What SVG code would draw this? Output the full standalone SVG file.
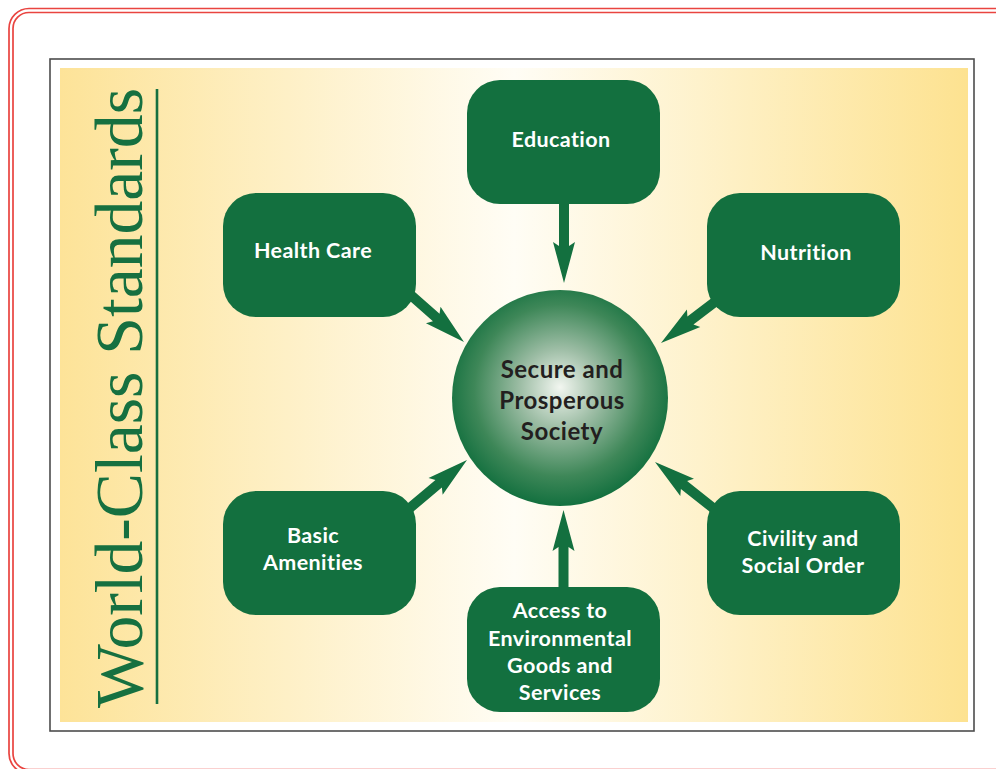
<svg xmlns="http://www.w3.org/2000/svg" width="996" height="769" viewBox="0 0 996 769">
  <defs>
    <linearGradient id="panelGrad" x1="0" y1="0" x2="1" y2="0">
      <stop offset="0" stop-color="#FDE398"/>
      <stop offset="0.5" stop-color="#FFFDF5"/>
      <stop offset="1" stop-color="#FDE290"/>
    </linearGradient>
    <radialGradient id="circleGrad" cx="0.5" cy="0.47" r="0.53" fx="0.5" fy="0.45">
      <stop offset="0" stop-color="#F2F6F0"/>
      <stop offset="0.35" stop-color="#9DBDA5"/>
      <stop offset="0.75" stop-color="#3E8758"/>
      <stop offset="1" stop-color="#13703F"/>
    </radialGradient>
    <style>
      .box { fill: #13703F; }
      .boxText { font-family: Lato, "Open Sans", "Liberation Sans", sans-serif; font-weight: bold; font-size: 21.5px; letter-spacing: 0.4px; fill: #FFFFFF; text-anchor: middle; }
      .centerText { font-family: Lato, "Open Sans", "Liberation Sans", sans-serif; font-weight: bold; font-size: 24px; letter-spacing: 0.5px; fill: #231F20; text-anchor: middle; }
      .arrow { fill: #13703F; }
      .redLine { fill: none; stroke: #E94440; stroke-width: 1.7; }
    </style>
  </defs>

  <rect x="0" y="0" width="996" height="769" fill="#FFFFFF"/>

  <!-- red double border -->
  <rect class="redLine" x="9" y="8.5" width="1010" height="765" rx="20" ry="20"/>
  <rect class="redLine" x="13" y="12.5" width="1002" height="757" rx="16" ry="16"/>

  <!-- gray frame -->
  <rect x="50" y="59" width="924" height="672" fill="#FFFFFF" stroke="#4D4D4D" stroke-width="1.6"/>

  <!-- yellow panel -->
  <rect x="60" y="68" width="908" height="654" fill="url(#panelGrad)"/>

  <!-- title -->
  <g id="title">
    <text x="142" y="708" transform="rotate(-90 142 708)" font-family="'Liberation Serif', 'Times New Roman', serif" font-size="67" fill="#167040" textLength="620" lengthAdjust="spacingAndGlyphs">World-Class Standards</text>
    <line x1="157" y1="89" x2="157" y2="704" stroke="#167040" stroke-width="2.6"/>
  </g>

  <!-- connectors -->
  <g id="connectors">
    <g transform="translate(564 283) rotate(90)"><path class="arrow" d="M0,0 L-41,-11 L-37,-5 L-85,-5 L-85,5 L-37,5 L-41,11 Z"/></g>
    <g transform="translate(563.5 510) rotate(-90)"><path class="arrow" d="M0,0 L-41,-11 L-37,-5 L-82,-5 L-82,5 L-37,5 L-41,11 Z"/></g>
    <g transform="translate(464 342) rotate(41.4)"><path class="arrow" d="M0,0 L-41,-11 L-37,-5 L-82,-5 L-82,5 L-37,5 L-41,11 Z"/></g>
    <g transform="translate(661 343) rotate(142.7)"><path class="arrow" d="M0,0 L-41,-11 L-37,-5 L-80,-5 L-80,5 L-37,5 L-41,11 Z"/></g>
    <g transform="translate(467 460) rotate(-40)"><path class="arrow" d="M0,0 L-41,-11 L-37,-5 L-84,-5 L-84,5 L-37,5 L-41,11 Z"/></g>
    <g transform="translate(655 462) rotate(-141.6)"><path class="arrow" d="M0,0 L-41,-11 L-37,-5 L-84,-5 L-84,5 L-37,5 L-41,11 Z"/></g>
  </g>

  <!-- nodes -->
  <g id="center">
    <circle cx="560" cy="398" r="108" fill="url(#circleGrad)"/>
    <text class="centerText" x="562" y="378">Secure and</text>
    <text class="centerText" x="562" y="409">Prosperous</text>
    <text class="centerText" x="562" y="440">Society</text>
  </g>

  <g id="education">
    <rect class="box" x="467" y="80" width="193" height="124" rx="33" ry="33"/>
    <text class="boxText" x="561" y="147">Education</text>
  </g>

  <g id="health-care">
    <rect class="box" x="223" y="193" width="193" height="124" rx="33" ry="33"/>
    <text class="boxText" x="313" y="258">Health Care</text>
  </g>

  <g id="nutrition">
    <rect class="box" x="707" y="193" width="193" height="124" rx="33" ry="33"/>
    <text class="boxText" x="806" y="260">Nutrition</text>
  </g>

  <g id="basic-amenities">
    <rect class="box" x="223" y="491" width="193" height="124" rx="33" ry="33"/>
    <text class="boxText" x="313" y="543">Basic</text>
    <text class="boxText" x="313" y="570">Amenities</text>
  </g>

  <g id="civility">
    <rect class="box" x="707" y="491" width="193" height="124" rx="33" ry="33"/>
    <text class="boxText" x="803" y="546">Civility and</text>
    <text class="boxText" x="803" y="573">Social Order</text>
  </g>

  <g id="access">
    <rect class="box" x="467" y="587" width="193" height="125" rx="33" ry="33"/>
    <text class="boxText" x="560" y="618">Access to</text>
    <text class="boxText" x="560" y="646">Environmental</text>
    <text class="boxText" x="560" y="673">Goods and</text>
    <text class="boxText" x="560" y="700">Services</text>
  </g>
</svg>
